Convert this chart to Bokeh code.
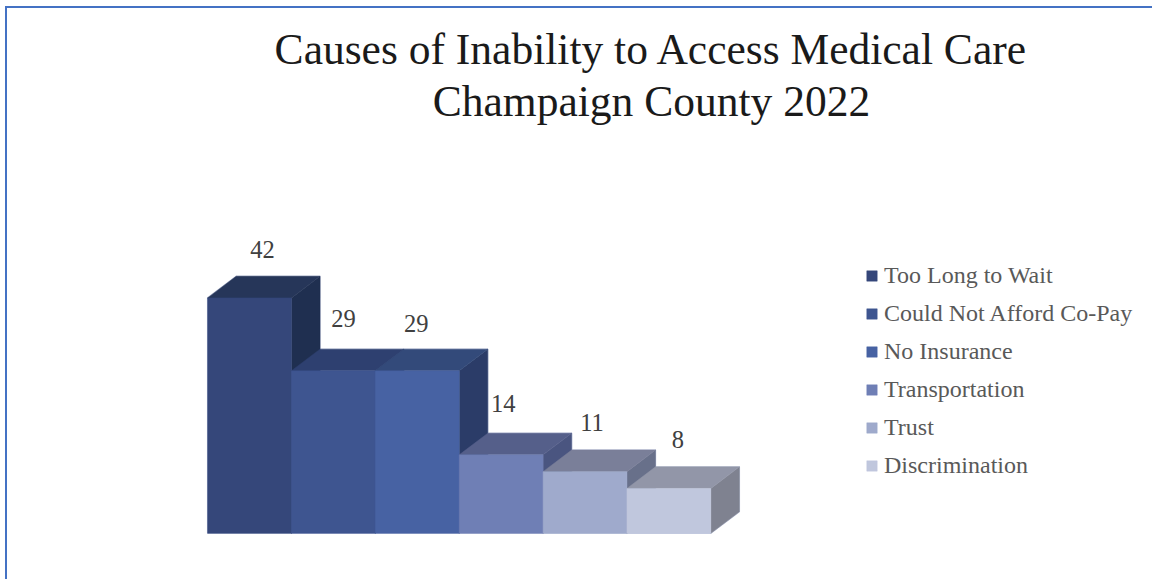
from bokeh.plotting import figure
from bokeh.models import Range1d, Legend, LegendItem, ColumnDataSource, Title
from bokeh.core.properties import value
from bokeh.embed import file_html
from bokeh.resources import INLINE

title_lines = ["Causes of Inability to Access Medical Care", "Champaign County 2022"]
categories = ["Too Long to Wait", "Could Not Afford Co-Pay", "No Insurance", "Transportation", "Trust", "Discrimination"]
values = [42, 29, 29, 14, 11, 8]
front_colors = ["#35477a", "#3e5590", "#4762a3", "#6f7fb5", "#9faacc", "#c0c7dd"]
top_colors = ["#263659", "#2e4070", "#334a7a", "#555f8a", "#7a7f99", "#9296a8"]
side_colors = ["#1f2f50", "#26365f", "#2b3c68", "#4a5580", "#68708a", "#7f8290"]
label_dx = [13, 10, -1, 2, 7, 9]
label_dy = [20, 24, 19, 23, 21, 21]

FONT = "Liberation Serif"
OX, OY = 8, 10          # canvas origin on the page, after the margin and the blue border
W, H = 1145, 571
FRAME_L, FRAME_R = 150, 1152
FRAME_T, FRAME_B = 130, 576
PX_CAT, PX_VAL = 83.7, 5.58
X0, Y0 = 208.0, 533.0
DEPTH_X, DEPTH_Y = 28.5 / PX_CAT, 21.5 / PX_VAL

p = figure(width=W, height=H, output_backend="svg", toolbar_location=None,
           x_range=Range1d((FRAME_L - X0) / PX_CAT, (FRAME_R - X0) / PX_CAT),
           y_range=Range1d((Y0 - FRAME_B) / PX_VAL, (Y0 - FRAME_T) / PX_VAL),
           min_border_left=FRAME_L - OX, min_border_right=OX + W - FRAME_R,
           min_border_top=FRAME_T - OY, min_border_bottom=OY + H - FRAME_B)
p.margin = (6, 0, 0, 5)
p.styles = {"border-left": "2px solid #4472c4", "border-top": "2px solid #4472c4", "box-sizing": "content-box"}
p.xaxis.visible = False
p.yaxis.visible = False
p.grid.visible = False
p.outline_line_color = None

for line, standoff in zip(reversed(title_lines), [7, -3]):
    t = Title(text=line, align="center", text_font=FONT, text_font_style="normal",
              text_font_size="43.5px", text_color="#1a1a1a", standoff=standoff)
    p.add_layout(t, "above")

for i, v in enumerate(values):
    p.patch([i, i, i + DEPTH_X, i + 1 + DEPTH_X, i + 1 + DEPTH_X, i + 1],
            [0, v, v + DEPTH_Y, v + DEPTH_Y, DEPTH_Y, 0],
            fill_alpha=0, line_color="#c5cbe0", line_width=1.4)

items = []
for i, (v, name) in enumerate(zip(values, categories)):
    p.patch([i + 1, i + 1 + DEPTH_X, i + 1 + DEPTH_X, i + 1], [0, DEPTH_Y, v + DEPTH_Y, v],
            fill_color=side_colors[i], line_color=side_colors[i], line_width=0.5)
    p.patch([i, i + DEPTH_X, i + 1 + DEPTH_X, i + 1], [v, v + DEPTH_Y, v + DEPTH_Y, v],
            fill_color=top_colors[i], line_color=top_colors[i], line_width=0.5)
    r = p.quad(left=[i], right=[i + 1], bottom=[0], top=[v],
               fill_color=front_colors[i], line_color=front_colors[i], line_width=0.5)
    items.append(LegendItem(label=name, renderers=[r]))

src = ColumnDataSource(dict(x=[i + 0.5 for i in range(len(values))], y=values,
                            t=[str(v) for v in values],
                            dx=label_dx,
                            dy=[-(28.0 + d) for d in label_dy]))
p.text("x", "y", text="t", source=src, x_offset="dx", y_offset="dy",
       text_align="center", text_baseline="middle",
       text_font=value(FONT), text_font_size="24.5px", text_color="#404040")

legend = Legend(items=items, location=(866 - FRAME_L, FRAME_B - 479),
                glyph_width=13, glyph_height=13, label_standoff=6, spacing=11,
                padding=0, margin=0, background_fill_alpha=0, border_line_color=None,
                label_text_font=FONT, label_text_font_size="24px", label_text_color="#595959")
p.add_layout(legend)

open("out.html", "w").write(file_html(p, INLINE))
